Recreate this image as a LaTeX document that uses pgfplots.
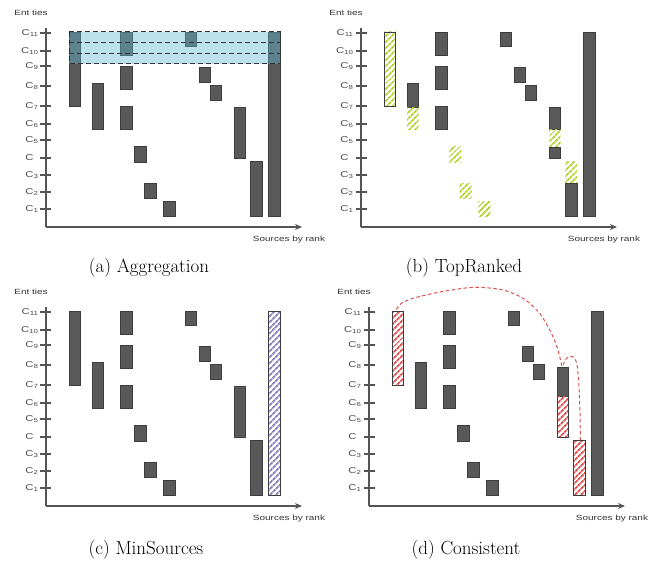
\documentclass[border=0pt]{standalone}
\usepackage{pgfplots}
\pgfplotsset{compat=1.18}
\usepackage{fontspec}
\usetikzlibrary{patterns.meta,arrows.meta}
\newfontfamily\lab[FakeStretch=1.33]{Liberation Sans}
\definecolor{bardark}{HTML}{595959}
\definecolor{barline}{HTML}{3D3D3D}
\definecolor{axgray}{HTML}{555555}
\definecolor{labtext}{HTML}{333333}
\definecolor{ticktext}{HTML}{4A4A4A}
\definecolor{bandblue}{HTML}{63BBD5}
\definecolor{hgreen}{HTML}{B5D334}
\definecolor{hpurple}{HTML}{8A7FC0}
\definecolor{hred}{HTML}{D9534F}
\newcommand{\rect}[5]{\addplot[#1] coordinates {(#2,-#4) (#3,-#4) (#3,-#5) (#2,-#5)} --cycle;}
\tikzset{
  darkbar/.style={fill=bardark, draw=barline, line width=0.8pt},
  outline/.style={draw=barline, line width=0.8pt, fill=none},
  hatch/.style={pattern={Lines[angle=45,distance=4pt,line width=1.8pt]}, pattern color=#1, draw=none},
  sidelab/.style={font=\lab\fontsize{7.5}{9}\selectfont, text=labtext},
  caplab/.style={font=\fontsize{19}{22}\selectfont},
}
\pgfplotsset{
  panel/.style={
    anchor=north west, scale only axis, width=256pt, height=199pt,
    xmin=46, xmax=302, ymin=-227, ymax=-28,
    axis x line=bottom, axis y line=left,
    axis line style={draw=axgray, line width=1.8pt},
    x axis line style={-{Stealth[length=7pt,width=6pt]}},
    y axis line style={-},
    xtick=\empty,
    ytick={-33,-51,-66,-86,-106,-124,-140,-158,-175,-192,-209},
    yticklabels={C\textsubscript{11},C\textsubscript{10},C\textsubscript{9},C\textsubscript{8},C\textsubscript{7},C\textsubscript{6},C\textsubscript{5},C\phantom{\textsubscript{5}},C\textsubscript{3},C\textsubscript{2},C\textsubscript{1}},
    ytick align=center, major tick length=11pt,
    y tick style={draw=axgray, line width=2pt},
    yticklabel style={font=\lab\fontsize{8.5}{9}\selectfont, text=ticktext, anchor=east, xshift=1.5pt},
    clip=false,
  },
}
\begin{document}
\begin{tikzpicture}
\useasboundingbox (0,0) rectangle (656pt,-567pt);
% ---------------- (a) Aggregation
\begin{axis}[panel, at={(46pt,-28pt)}]
\rect{darkbar}{69.3}{80.7}{32}{106.5}
\rect{darkbar}{92}{103.7}{83.5}{129}
\rect{darkbar}{120.3}{132}{32}{55}
\rect{darkbar}{120.3}{132}{66}{89.3}
\rect{darkbar}{120.3}{132}{106}{129}
\rect{darkbar}{134.3}{146}{146.7}{162}
\rect{darkbar}{144.7}{156.5}{183}{198}
\rect{darkbar}{163.3}{175.3}{201}{216}
\rect{darkbar}{185.3}{196.7}{32}{46.7}
\rect{darkbar}{199}{210.7}{67}{82.3}
\rect{darkbar}{210}{221.7}{85.3}{100.3}
\rect{darkbar}{234.3}{245.7}{107.3}{158.7}
\rect{darkbar}{250.3}{262}{161.3}{216}
\rect{darkbar}{268.7}{280}{32}{216}
\rect{fill=bandblue, fill opacity=0.42, draw=none}{69.3}{280}{32}{64}
\addplot[draw=labtext, line width=1pt, dash pattern=on 5pt off 3pt] coordinates {(69.3,-32) (280,-32) (280,-64) (69.3,-64)} --cycle;
\addplot[draw=labtext, line width=1pt, dash pattern=on 5pt off 3pt] coordinates {(69.3,-42.3) (280,-42.3)};
\addplot[draw=labtext, line width=1pt, dash pattern=on 5pt off 3pt] coordinates {(69.3,-53.3) (280,-53.3)};
\node[sidelab] at (axis cs:31,-13) {Ent ties};
\node[sidelab] at (axis cs:289,-240) {Sources by rank};
\node[caplab] at (axis cs:149,-268) {(a) Aggregation};
\end{axis}
% ---------------- (b) TopRanked
\begin{axis}[panel, at={(361pt,-28pt)}]
\rect{hatch=hgreen}{69.3}{80.7}{32}{106.5}
\rect{outline}{69.3}{80.7}{32}{106.5}
\rect{darkbar}{92}{103.7}{83.5}{107.3}
\rect{hatch=hgreen}{92}{103.7}{107.3}{129}
\rect{darkbar}{120.3}{132}{32}{55}
\rect{darkbar}{120.3}{132}{66}{89.3}
\rect{darkbar}{120.3}{132}{106}{129}
\rect{hatch=hgreen}{134.3}{146}{146.7}{162}
\rect{hatch=hgreen}{144.7}{156.5}{183}{198}
\rect{hatch=hgreen}{163.3}{175.3}{201}{216}
\rect{darkbar}{185.3}{196.7}{32}{46.7}
\rect{darkbar}{199}{210.7}{67}{82.3}
\rect{darkbar}{210}{221.7}{85.3}{100.3}
\rect{darkbar}{234.3}{245.7}{107.3}{129.3}
\rect{hatch=hgreen}{234.3}{245.7}{129.3}{147.7}
\rect{darkbar}{234.3}{245.7}{147.7}{158.7}
\rect{hatch=hgreen}{250.3}{262}{161.3}{183.7}
\rect{darkbar}{250.3}{262}{183.7}{216}
\rect{darkbar}{268.7}{280}{32}{216}
\node[sidelab] at (axis cs:31,-13) {Ent ties};
\node[sidelab] at (axis cs:289,-240) {Sources by rank};
\node[caplab] at (axis cs:149,-268) {(b) TopRanked};
\end{axis}
% ---------------- (c) MinSources
\begin{axis}[panel, at={(46pt,-307pt)}]
\rect{darkbar}{69.3}{80.7}{32}{106.5}
\rect{darkbar}{92}{103.7}{83.5}{129}
\rect{darkbar}{120.3}{132}{32}{55}
\rect{darkbar}{120.3}{132}{66}{89.3}
\rect{darkbar}{120.3}{132}{106}{129}
\rect{darkbar}{134.3}{146}{146.7}{162}
\rect{darkbar}{144.7}{156.5}{183}{198}
\rect{darkbar}{163.3}{175.3}{201}{216}
\rect{darkbar}{185.3}{196.7}{32}{46.7}
\rect{darkbar}{199}{210.7}{67}{82.3}
\rect{darkbar}{210}{221.7}{85.3}{100.3}
\rect{darkbar}{234.3}{245.7}{107.3}{158.7}
\rect{darkbar}{250.3}{262}{161.3}{216}
\rect{hatch=hpurple}{268.7}{280}{32}{216}
\rect{outline}{268.7}{280}{32}{216}
\node[sidelab] at (axis cs:31,-13) {Ent ties};
\node[sidelab] at (axis cs:289,-240) {Sources by rank};
\node[caplab] at (axis cs:146,-271) {(c) MinSources};
\end{axis}
% ---------------- (d) Consistent
\begin{axis}[panel, at={(369pt,-307pt)}]
\rect{hatch=hred}{69.3}{80.7}{32}{106.5}
\rect{outline}{69.3}{80.7}{32}{106.5}
\rect{darkbar}{92}{103.7}{83.5}{129}
\rect{darkbar}{120.3}{132}{32}{55}
\rect{darkbar}{120.3}{132}{66}{89.3}
\rect{darkbar}{120.3}{132}{106}{129}
\rect{darkbar}{134.3}{146}{146.7}{162}
\rect{darkbar}{144.7}{156.5}{183}{198}
\rect{darkbar}{163.3}{175.3}{201}{216}
\rect{darkbar}{185.3}{196.7}{32}{46.7}
\rect{darkbar}{199}{210.7}{67}{82.3}
\rect{darkbar}{210}{221.7}{85.3}{100.3}
\rect{darkbar}{234.3}{245.7}{88.7}{117.7}
\rect{hatch=hred}{234.3}{245.7}{117.7}{158}
\rect{outline}{234.3}{245.7}{88.7}{158}
\rect{hatch=hred}{250.3}{262}{161.3}{216}
\rect{outline}{250.3}{262}{161.3}{216}
\rect{darkbar}{268.7}{280}{32}{216}
\addplot[smooth, draw=hred, line width=1pt, dash pattern=on 3.5pt off 2.5pt] coordinates {(73.4,-30.3) (78.4,-24.3) (90,-19.3) (113.4,-13.7) (140,-9.3) (156.7,-8.3) (180,-11) (200,-19.3) (216.7,-34.3) (228.4,-54.3) (235,-71) (239,-88.3)};
\addplot[smooth, draw=hred, line width=1pt, dash pattern=on 3.5pt off 2.5pt] coordinates {(240,-86) (242.7,-80.3) (246.7,-77.3) (251,-78.7) (254,-86) (256,-107.7) (257,-134.3) (257.4,-161)};
\node[sidelab] at (axis cs:31,-13) {Ent ties};
\node[sidelab] at (axis cs:289,-240) {Sources by rank};
\node[caplab] at (axis cs:143,-271) {(d) Consistent};
\end{axis}
\end{tikzpicture}
\end{document}
